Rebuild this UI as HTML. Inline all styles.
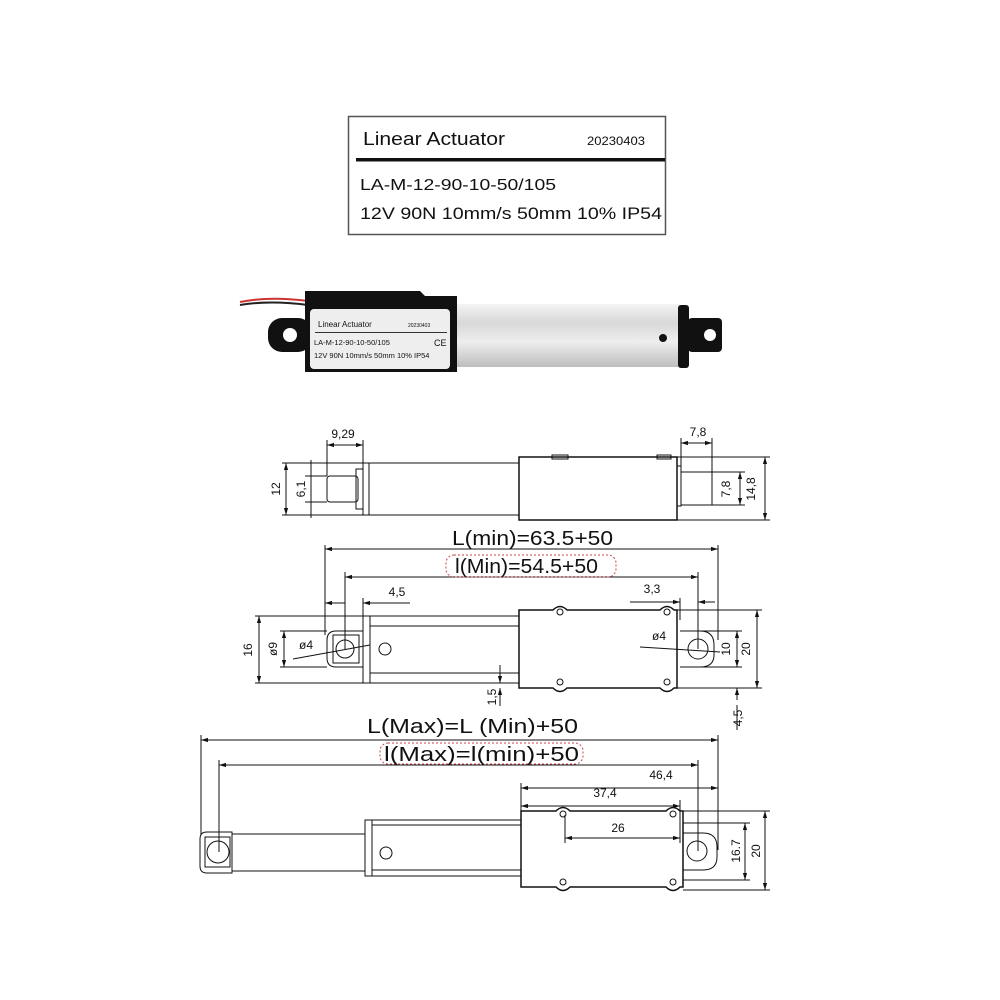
<!DOCTYPE html>
<html><head><meta charset="utf-8"><style>
html,body{margin:0;padding:0;background:#fff}
svg{display:block}
text{font-family:"Liberation Sans",sans-serif;fill:#111}
</style></head><body>
<svg width="1000" height="1000" viewBox="0 0 1000 1000" xmlns="http://www.w3.org/2000/svg">
<defs>
<marker id="a" viewBox="0 0 10 10" refX="10" refY="5" markerWidth="7" markerHeight="7" orient="auto-start-reverse"><path d="M0,2 L10,5 L0,8 z" fill="#111"/></marker>
<linearGradient id="al" x1="0" y1="0" x2="0" y2="1"><stop offset="0" stop-color="#f4f4f4"/><stop offset=".3" stop-color="#d8d8d8"/><stop offset=".6" stop-color="#eeeeee"/><stop offset="1" stop-color="#bdbdbd"/></linearGradient>
</defs>
<!-- label -->
<rect x="348.5" y="116.5" width="317" height="118" fill="#fff" stroke="#555" stroke-width="1.5"/>
<text x="363" y="145" font-size="18" textLength="142" lengthAdjust="spacingAndGlyphs">Linear Actuator</text>
<text x="587" y="145" font-size="12" textLength="58" lengthAdjust="spacingAndGlyphs">20230403</text>
<rect x="356" y="158" width="309" height="3.5" fill="#111"/>
<text x="360" y="190" font-size="16" textLength="196" lengthAdjust="spacingAndGlyphs">LA-M-12-90-10-50/105</text>
<text x="360" y="219" font-size="17" textLength="302" lengthAdjust="spacingAndGlyphs">12V 90N 10mm/s 50mm 10% IP54</text>
<!-- photo -->
<path d="M240 302 Q270 296 308 301" stroke="#c33" stroke-width="2" fill="none"/>
<path d="M240 305 Q270 300 308 305" stroke="#222" stroke-width="2" fill="none"/>
<rect x="268" y="318" width="44" height="34" rx="14" fill="#111"/>
<circle cx="290" cy="335" r="7" fill="#fff"/>
<rect x="457" y="304" width="223" height="63" fill="url(#al)"/>
<path d="M305 291 H420 L425 296 H457 V372 H305 Z" fill="#111"/>
<rect x="310" y="309" width="140" height="60" rx="4" fill="#eee"/>
<text x="318" y="327" font-size="8">Linear Actuator</text>
<text x="408" y="327" font-size="5" fill="#888">20230403</text>
<rect x="315" y="332" width="132" height="1" fill="#333"/>
<text x="314" y="345" font-size="7.5">LA-M-12-90-10-50/105</text>
<text x="434" y="346" font-size="9">CE</text>
<text x="314" y="358" font-size="7.5">12V 90N 10mm/s 50mm 10% IP54</text>
<rect x="678" y="305" width="11" height="63" rx="3" fill="#111"/>
<rect x="688" y="318" width="34" height="34" rx="4" fill="#111"/>
<circle cx="710" cy="335" r="6" fill="#fff"/>
<circle cx="663" cy="338" r="4" fill="#111"/>
<g stroke="#111" stroke-width="1" fill="none">
<!-- top view -->
<rect x="327" y="476" width="31" height="26" rx="3"/>
<rect x="356" y="469" width="7" height="40"/>
<rect x="363" y="463" width="6" height="52"/>
<rect x="369" y="463" width="150" height="52"/>
<rect x="519" y="457" width="158" height="63" stroke-width="1.5"/>
<rect x="552" y="455" width="16" height="4"/>
<rect x="657" y="455" width="14" height="4"/>
<rect x="677" y="466" width="4" height="40"/>
<rect x="681" y="472" width="31" height="33"/>
<line x1="327" y1="440" x2="327" y2="476"/><line x1="363" y1="440" x2="363" y2="463"/>
<line x1="327" y1="445" x2="363" y2="445" marker-start="url(#a)" marker-end="url(#a)"/>
<line x1="282" y1="463" x2="363" y2="463"/><line x1="282" y1="515" x2="363" y2="515"/>
<line x1="286" y1="463" x2="286" y2="515" marker-start="url(#a)" marker-end="url(#a)"/>
<line x1="305" y1="476" x2="327" y2="476"/><line x1="305" y1="502" x2="327" y2="502"/>
<line x1="311" y1="460" x2="311" y2="518"/>
<line x1="681" y1="438" x2="681" y2="470"/><line x1="712" y1="438" x2="712" y2="472"/>
<line x1="681" y1="443" x2="712" y2="443" marker-start="url(#a)" marker-end="url(#a)"/>
<line x1="712" y1="472" x2="745" y2="472"/><line x1="712" y1="505" x2="745" y2="505"/>
<line x1="740" y1="472" x2="740" y2="505" marker-start="url(#a)" marker-end="url(#a)"/>
<line x1="677" y1="457" x2="770" y2="457"/><line x1="677" y1="520" x2="770" y2="520"/>
<line x1="765" y1="457" x2="765" y2="520" marker-start="url(#a)" marker-end="url(#a)"/>
<!-- front view -->
<line x1="325" y1="545" x2="325" y2="635"/><line x1="718" y1="545" x2="718" y2="640"/>
<line x1="325" y1="549" x2="718" y2="549" marker-start="url(#a)" marker-end="url(#a)"/>
<line x1="345" y1="572" x2="345" y2="649"/><line x1="698" y1="572" x2="698" y2="649"/>
<line x1="345" y1="577" x2="698" y2="577" marker-start="url(#a)" marker-end="url(#a)"/>
<line x1="363" y1="598" x2="363" y2="616"/>
<line x1="325" y1="603" x2="345" y2="603" marker-start="url(#a)"/><line x1="363" y1="603" x2="410" y2="603" marker-start="url(#a)"/>
<line x1="630" y1="602" x2="680" y2="602" marker-end="url(#a)"/><line x1="698" y1="602" x2="715" y2="602" marker-start="url(#a)"/>
<line x1="680" y1="598" x2="680" y2="620"/>
<path d="M363 631 H336 Q327 631 327 640 V658 Q327 667 336 667 H363"/>
<rect x="333" y="635" width="26" height="28"/>
<circle cx="345" cy="649" r="9"/>
<rect x="363" y="616" width="7" height="67"/>
<rect x="370" y="616" width="149" height="67"/>
<line x1="370" y1="626" x2="519" y2="626"/><line x1="370" y1="673" x2="519" y2="673"/>
<circle cx="385" cy="649" r="6"/>
<path d="M519 610 H553 Q560 603 567 610 H660 Q667 603 674 610 H677 V688 H674 Q667 695 660 688 H567 Q560 695 553 688 H519 Z" stroke-width="1.5"/>
<circle cx="560" cy="612" r="3"/><circle cx="667" cy="612" r="3"/><circle cx="560" cy="682" r="3"/><circle cx="667" cy="682" r="3"/>
<path d="M680 631 H700 Q714 631 714 645 V655 Q714 667 700 667 H680"/>
<circle cx="698" cy="649" r="10"/>
<line x1="255" y1="616" x2="363" y2="616"/><line x1="255" y1="683" x2="363" y2="683"/>
<line x1="259" y1="616" x2="259" y2="683" marker-start="url(#a)" marker-end="url(#a)"/>
<line x1="280" y1="631" x2="327" y2="631"/><line x1="280" y1="667" x2="327" y2="667"/>
<line x1="284" y1="631" x2="284" y2="667" marker-start="url(#a)" marker-end="url(#a)"/>
<line x1="293" y1="659" x2="370" y2="645"/>
<line x1="640" y1="647" x2="720" y2="652"/>
<line x1="698" y1="631" x2="742" y2="631"/><line x1="698" y1="667" x2="742" y2="667"/>
<line x1="737" y1="631" x2="737" y2="667" marker-start="url(#a)" marker-end="url(#a)"/>
<line x1="677" y1="610" x2="762" y2="610"/><line x1="677" y1="688" x2="762" y2="688"/>
<line x1="757" y1="610" x2="757" y2="688" marker-start="url(#a)" marker-end="url(#a)"/>
<line x1="737" y1="700" x2="737" y2="688" marker-end="url(#a)"/><line x1="737" y1="730" x2="737" y2="705"/>
<line x1="500" y1="665" x2="500" y2="683" marker-end="url(#a)"/><line x1="500" y1="706" x2="500" y2="688" marker-end="url(#a)"/>
<!-- extended view -->
<line x1="201" y1="735" x2="201" y2="835"/><line x1="718" y1="735" x2="718" y2="850"/>
<line x1="201" y1="740" x2="718" y2="740" marker-start="url(#a)" marker-end="url(#a)"/>
<line x1="219" y1="760" x2="219" y2="852"/><line x1="698" y1="760" x2="698" y2="851"/>
<line x1="219" y1="765" x2="698" y2="765" marker-start="url(#a)" marker-end="url(#a)"/>
<line x1="521" y1="783" x2="521" y2="811"/>
<line x1="521" y1="788" x2="718" y2="788" marker-start="url(#a)" marker-end="url(#a)"/>
<line x1="521" y1="806" x2="680" y2="806" marker-start="url(#a)" marker-end="url(#a)"/>
<line x1="680" y1="800" x2="680" y2="843"/><line x1="565" y1="815" x2="565" y2="843"/>
<line x1="565" y1="838" x2="680" y2="838" marker-start="url(#a)" marker-end="url(#a)"/>
<path d="M232 832 H207 Q200 832 200 839 V866 Q200 873 207 873 H232 Z"/>
<rect x="205" y="837" width="25" height="30"/>
<circle cx="218" cy="852" r="11"/>
<rect x="232" y="834" width="133" height="37"/>
<rect x="365" y="820" width="7" height="56"/>
<rect x="372" y="820" width="149" height="56"/>
<line x1="372" y1="825" x2="521" y2="825"/><line x1="372" y1="870" x2="521" y2="870"/>
<circle cx="386" cy="853" r="6"/>
<path d="M521 811 H556 Q563 804 570 811 H666 Q673 804 680 811 H683 V887 H680 Q673 894 666 887 H570 Q563 894 556 887 H521 Z" stroke-width="1.5"/>
<circle cx="563" cy="814" r="3"/><circle cx="673" cy="814" r="3"/><circle cx="563" cy="882" r="3"/><circle cx="673" cy="882" r="3"/>
<path d="M683 833 H703 Q717 833 717 847 V857 Q717 870 703 870 H683"/>
<circle cx="697" cy="851" r="10"/>
<line x1="683" y1="823" x2="750" y2="823"/><line x1="683" y1="880" x2="750" y2="880"/>
<line x1="745" y1="823" x2="745" y2="880" marker-start="url(#a)" marker-end="url(#a)"/>
<line x1="683" y1="811" x2="770" y2="811"/><line x1="683" y1="890" x2="770" y2="890"/>
<line x1="765" y1="811" x2="765" y2="890" marker-start="url(#a)" marker-end="url(#a)"/>
</g>
<!-- red dashed boxes -->
<rect x="446" y="555" width="170" height="22" rx="8" fill="none" stroke="#c44" stroke-dasharray="2,2"/>
<rect x="380" y="743" width="203" height="21" rx="8" fill="none" stroke="#c44" stroke-dasharray="2,2"/>
<!-- labels -->
<g font-size="12" text-anchor="middle">
<text x="343" y="438">9,29</text>
<text x="698" y="436">7,8</text>
<text transform="translate(280,489) rotate(-90)">12</text>
<text transform="translate(305,489) rotate(-90)">6,1</text>
<text transform="translate(730,489) rotate(-90)">7,8</text>
<text transform="translate(755,489) rotate(-90)">14,8</text>
<text x="397" y="596">4,5</text>
<text x="652" y="593">3,3</text>
<text transform="translate(252,650) rotate(-90)">16</text>
<text transform="translate(277,649) rotate(-90)">ø9</text>
<text x="306" y="649">ø4</text>
<text x="659" y="640">ø4</text>
<text transform="translate(730,649) rotate(-90)">10</text>
<text transform="translate(750,649) rotate(-90)">20</text>
<text transform="translate(742,718) rotate(-90)">4,5</text>
<text transform="translate(496,697) rotate(-90)">1,5</text>
<text x="661" y="779">46,4</text>
<text x="605" y="797">37,4</text>
<text x="618" y="832">26</text>
<text transform="translate(740,851) rotate(-90)">16.7</text>
<text transform="translate(760,851) rotate(-90)">20</text>
</g>
<g font-size="20">
<text x="452" y="545" textLength="161" lengthAdjust="spacingAndGlyphs">L(min)=63.5+50</text>
<text x="455" y="573" textLength="143" lengthAdjust="spacingAndGlyphs">l(Min)=54.5+50</text>
<text x="367" y="733" textLength="211" lengthAdjust="spacingAndGlyphs">L(Max)=L (Min)+50</text>
<text x="384" y="761" textLength="195" lengthAdjust="spacingAndGlyphs">l(Max)=l(min)+50</text>
</g>
</svg>
</body></html>
